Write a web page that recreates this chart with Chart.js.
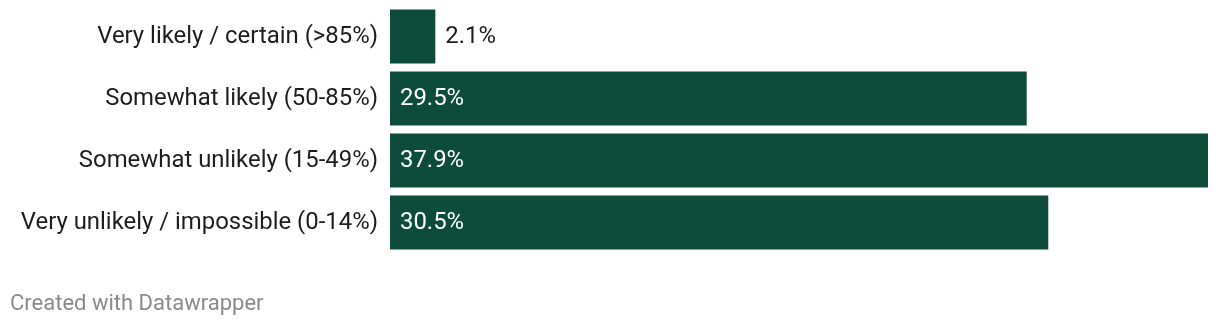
<!DOCTYPE html>
<html>
<head>
<meta charset="utf-8">
<script src="https://cdn.jsdelivr.net/npm/chart.js@4"></script>
<style>
  html, body { margin: 0; padding: 0; background: #fff; }
  #wrap { width: 1220px; height: 326px; position: relative; }
</style>
</head>
<body>
<div id="wrap"><canvas id="myChart"></canvas></div>
<script>
var categories = [
  "Very likely / certain (>85%)",
  "Somewhat likely (50-85%)",
  "Somewhat unlikely (15-49%)",
  "Very unlikely / impossible (0-14%)"
];
var shares = [2.1, 29.5, 37.9, 30.5];
var footerText = "Created with Datawrapper";

var barColor = "#0d4b3b";

// value labels: inside the bar when it fits, else just after it
var valueLabels = {
  id: "valueLabels",
  afterDatasetsDraw: function(chart) {
    var ctx = chart.ctx;
    var meta = chart.getDatasetMeta(0);
    ctx.save();
    ctx.font = "23.9px Roboto";
    ctx.textBaseline = "middle";
    ctx.textAlign = "left";
    meta.data.forEach(function(bar, i) {
      var txt = shares[i].toFixed(1) + "%";
      var w = ctx.measureText(txt).width;
      if (bar.x - bar.base > w + 20) {
        ctx.fillStyle = "#ffffff";
        ctx.fillText(txt, bar.base + 10, bar.y + 1);
      } else {
        ctx.fillStyle = "#1d1d1d";
        ctx.fillText(txt, bar.x + 10, bar.y + 1);
      }
    });
    ctx.restore();
  }
};

var footer = {
  id: "footer",
  afterDraw: function(chart) {
    var ctx = chart.ctx;
    ctx.save();
    ctx.font = "22px Roboto";
    ctx.fillStyle = "#8a8a8a";
    ctx.textBaseline = "alphabetic";
    ctx.textAlign = "left";
    ctx.fillText(footerText, 10, 310);
    ctx.restore();
  }
};

new Chart("myChart", {
  type: "bar",
  data: {
    labels: categories,
    datasets: [{
      data: shares,
      backgroundColor: barColor,
      borderWidth: 0,
      categoryPercentage: 1,
      barPercentage: 0.87
    }]
  },
  options: {
    indexAxis: "y",
    responsive: true,
    maintainAspectRatio: false,
    animation: false,
    layout: { padding: { top: 5.5, bottom: 72.5, left: 0, right: 12 } },
    plugins: {
      legend: { display: false },
      tooltip: { enabled: false }
    },
    scales: {
      x: {
        display: false,
        min: 0,
        max: 37.9
      },
      y: {
        grid: { display: false, drawTicks: false },
        border: { display: false },
        afterFit: function(scale) {
          scale.width = 390;
          scale.paddingTop = 0;
          scale.paddingBottom = 0;
        },
        ticks: {
          padding: 12,
          labelOffset: 1,
          color: "#1d1d1d",
          font: { family: "Roboto", size: 23.9 }
        }
      }
    }
  },
  plugins: [valueLabels, footer]
});
</script>
</body>
</html>
